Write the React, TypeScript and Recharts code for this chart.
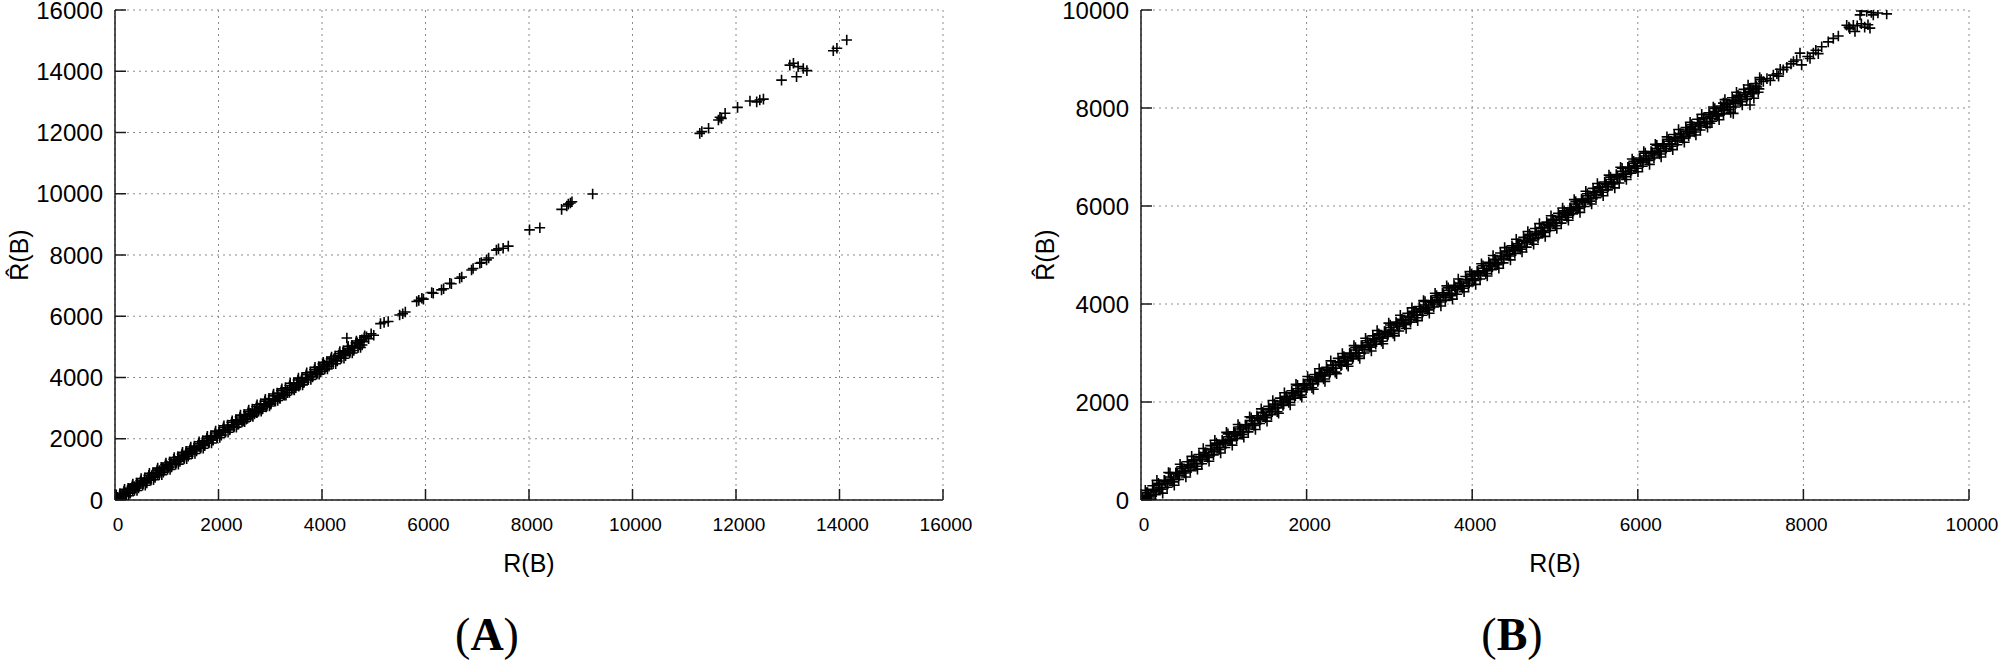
import React from 'react';
import { ScatterChart, Scatter, XAxis, YAxis, CartesianGrid, Label } from 'recharts';

// ---------- tick values & labels ----------
const ticksA = [0, 2000, 4000, 6000, 8000, 10000, 12000, 14000, 16000];
const ticksB = [0, 2000, 4000, 6000, 8000, 10000];
const xTitle = 'R(B)';
const yTitle = 'R\u0302(B)';
const panelNames = ['A', 'B'];

// ---------- panel A data: [R(B), R̂(B)] ----------
const aBand: number[][] = [
  [0, 30], [30, 10], [50, 90], [80, 40], [110, 160], [140, 110], [170, 230], [200, 170], [240, 300], [270, 250],
  [300, 370], [340, 330], [370, 440], [400, 390], [440, 520], [470, 460], [500, 580], [540, 540], [570, 650], [610, 610],
  [640, 720], [680, 680], [710, 800], [750, 760], [780, 880], [820, 840], [860, 960], [890, 910], [930, 1040], [960, 990],
  [1000, 1120], [1040, 1070], [1080, 1210], [1110, 1150], [1150, 1290], [1190, 1240], [1230, 1380], [1260, 1310], [1300, 1450], [1340, 1400],
  [1380, 1530], [1420, 1480], [1450, 1620], [1490, 1550], [1530, 1700], [1570, 1640], [1610, 1780], [1650, 1720], [1690, 1860], [1730, 1810],
  [1770, 1950], [1810, 1880], [1850, 2030], [1890, 1960], [1930, 2110], [1970, 2050], [2010, 2190], [2050, 2140], [2090, 2290], [2130, 2220],
  [2180, 2370], [2220, 2310], [2260, 2460], [2300, 2400], [2350, 2550], [2390, 2480], [2430, 2640], [2480, 2580], [2520, 2730], [2560, 2660],
  [2610, 2820], [2650, 2760], [2700, 2920], [2740, 2850], [2790, 3010], [2830, 2950], [2880, 3100], [2920, 3040], [2970, 3190], [3010, 3130],
  [3060, 3290], [3100, 3230], [3150, 3380], [3190, 3320], [3240, 3480], [3280, 3420], [3330, 3580], [3370, 3510], [3420, 3680], [3460, 3620],
  [3510, 3780], [3550, 3720], [3600, 3890], [3640, 3830], [3690, 3990], [3730, 3930], [3780, 4100], [3820, 4040], [3870, 4200], [3910, 4140],
  [3960, 4310], [4000, 4250], [4050, 4410], [4090, 4350], [4140, 4510], [4180, 4450], [4230, 4610], [4270, 4560], [4320, 4720], [4360, 4660],
  [4410, 4830], [4450, 4760], [4500, 4930], [4540, 4870], [4590, 5030], [4630, 4970], [4680, 5130], [4720, 5070], [4770, 5230], [4810, 5170],
  [4860, 5330], [4900, 5270], [4950, 5430], [5000, 5380], [4480, 5290],
];
const aUp: number[][] = [
  [15, 120], [95, 200], [175, 290], [255, 380], [335, 460], [415, 550], [495, 630], [575, 720], [655, 810], [735, 890],
  [815, 980], [895, 1070], [975, 1150], [1055, 1240], [1135, 1330], [1215, 1410], [1295, 1500], [1375, 1590], [1455, 1670], [1535, 1760],
  [1615, 1840], [1695, 1930], [1775, 2020], [1855, 2100], [1935, 2190], [2015, 2280], [2095, 2360], [2175, 2450], [2255, 2540], [2335, 2620],
  [2415, 2710], [2495, 2790], [2575, 2880], [2655, 2970], [2735, 3050], [2815, 3140], [2895, 3230], [2975, 3310], [3055, 3400], [3135, 3490],
  [3215, 3570], [3295, 3660], [3375, 3740], [3455, 3830], [3535, 3920], [3615, 4000], [3695, 4090], [3775, 4180], [3855, 4260], [3935, 4350],
  [4015, 4440], [4095, 4520], [4175, 4610], [4255, 4700], [4335, 4780], [4415, 4870], [4495, 4950], [4575, 5040], [4655, 5130], [4735, 5210],
  [4815, 5300],
];
const aDown: number[][] = [
  [55, 0], [135, 50], [215, 130], [295, 220], [375, 310], [455, 390], [535, 480], [615, 560], [695, 650], [775, 740],
  [855, 820], [935, 910], [1015, 1000], [1095, 1080], [1175, 1170], [1255, 1260], [1335, 1340], [1415, 1430], [1495, 1510], [1575, 1600],
  [1655, 1690], [1735, 1770], [1815, 1860], [1895, 1950], [1975, 2030], [2055, 2120], [2135, 2210], [2215, 2290], [2295, 2380], [2375, 2470],
  [2455, 2550], [2535, 2640], [2615, 2720], [2695, 2810], [2775, 2900], [2855, 2980], [2935, 3070], [3015, 3160], [3095, 3240], [3175, 3330],
  [3255, 3420], [3335, 3500], [3415, 3590], [3495, 3670], [3575, 3760], [3655, 3850], [3735, 3930], [3815, 4020], [3895, 4110], [3975, 4190],
  [4055, 4280], [4135, 4370], [4215, 4450], [4295, 4540], [4375, 4630], [4455, 4710], [4535, 4800], [4615, 4880], [4695, 4970], [4775, 5060],
];
const aEdge: number[][] = [
  [25, 170], [105, 0], [185, 350], [265, 140], [345, 520], [425, 310], [505, 700], [585, 480], [665, 870], [745, 660],
  [825, 1040], [905, 830], [985, 1210], [1065, 1000], [1145, 1390], [1225, 1170], [1305, 1560], [1385, 1350], [1465, 1730], [1545, 1520],
  [1625, 1900], [1705, 1690], [1785, 2080], [1865, 1860], [1945, 2250], [2025, 2040], [2105, 2420], [2185, 2210], [2265, 2590], [2345, 2380],
  [2425, 2770], [2505, 2560], [2585, 2940], [2665, 2730], [2745, 3110], [2825, 2900], [2905, 3290], [2985, 3070], [3065, 3460], [3145, 3250],
  [3225, 3630], [3305, 3420], [3385, 3810], [3465, 3590], [3545, 3980], [3625, 3760], [3705, 4150], [3785, 3940], [3865, 4330], [3945, 4110],
  [4025, 4500], [4105, 4280], [4185, 4670], [4265, 4450], [4345, 4850], [4425, 4630], [4505, 5020], [4585, 4800], [4665, 5190], [4745, 4980],
  [4825, 5360],
];
const aMid: number[][] = [
  [5130, 5760], [5200, 5800], [5280, 5830], [5500, 6040], [5560, 6080], [5610, 6140], [5830, 6480], [5870, 6520], [5930, 6590], [5960, 6560],
  [6120, 6770], [6150, 6750], [6310, 6860], [6350, 6900], [6470, 7080], [6500, 7060], [6660, 7240], [6700, 7280], [6890, 7510], [6920, 7560],
  [7050, 7730], [7080, 7750], [7180, 7840], [7220, 7900], [7370, 8160], [7410, 8200],
];
const aSparse: number[][] = [
  [7500, 8220], [7600, 8290], [8010, 8820], [8210, 8890], [8630, 9490], [8730, 9600], [8760, 9660], [8800, 9700], [8830, 9740], [9230, 9990],
  [11300, 11970], [11340, 12030], [11470, 12140], [11660, 12410], [11690, 12500], [11720, 12460], [11790, 12630], [12030, 12820], [12270, 13030], [12400, 13000],
  [12460, 13060], [12530, 13090], [12880, 13710], [13040, 14200], [13110, 14260], [13170, 13820], [13200, 14150], [13300, 14090], [13370, 14020], [13880, 14670],
  [13950, 14750], [14140, 15020],
];

// ---------- panel B data: [R(B), R̂(B)] ----------
const bUpper: number[][] = [
  [0, 50], [70, 150], [140, 290], [210, 340], [280, 400], [350, 550], [420, 550], [490, 680], [560, 780], [630, 820],
  [700, 930], [770, 960], [840, 1110], [910, 1160], [980, 1220], [1050, 1350], [1120, 1390], [1190, 1490], [1260, 1530], [1330, 1680],
  [1400, 1720], [1470, 1790], [1540, 1910], [1610, 1960], [1680, 2080], [1750, 2110], [1820, 2230], [1890, 2340], [1960, 2370], [2030, 2460],
  [2100, 2560], [2170, 2600], [2240, 2710], [2310, 2750], [2380, 2890], [2450, 2930], [2520, 3000], [2590, 3110], [2660, 3150], [2730, 3250],
  [2800, 3350], [2870, 3390], [2940, 3440], [3010, 3570], [3080, 3630], [3150, 3690], [3220, 3810], [3290, 3850], [3360, 3950], [3430, 4050],
  [3500, 4070], [3570, 4170], [3640, 4230], [3710, 4330], [3780, 4380], [3850, 4420], [3920, 4560], [3990, 4610], [4060, 4670], [4130, 4780],
  [4200, 4850], [4270, 4910], [4340, 5040], [4410, 5080], [4480, 5190], [4550, 5230], [4620, 5360], [4690, 5420], [4760, 5540], [4830, 5560],
  [4900, 5670], [4970, 5730], [5040, 5850], [5110, 5900], [5180, 5960], [5250, 6090], [5320, 6140], [5390, 6250], [5460, 6360], [5530, 6390],
  [5600, 6490], [5670, 6590], [5740, 6640], [5810, 6770], [5880, 6790], [5950, 6910], [6020, 6980], [6090, 7080], [6160, 7110], [6230, 7240],
  [6300, 7270], [6370, 7360], [6440, 7460], [6510, 7480], [6580, 7600], [6650, 7660], [6720, 7770], [6790, 7800], [6860, 7900], [6930, 7990],
  [7000, 8040], [7070, 8090], [7140, 8210], [7210, 8260], [7280, 8380], [7350, 8400], [7420, 8500], [7490, 8580],
];
const bLower: number[][] = [
  [35, 10], [105, 60], [175, 110], [245, 220], [315, 260], [385, 370], [455, 420], [525, 550], [595, 600], [665, 690],
  [735, 740], [805, 870], [875, 920], [945, 1030], [1015, 1070], [1085, 1210], [1155, 1250], [1225, 1340], [1295, 1390], [1365, 1520],
  [1435, 1560], [1505, 1680], [1575, 1740], [1645, 1800], [1715, 1930], [1785, 1990], [1855, 2080], [1925, 2140], [1995, 2250], [2065, 2290],
  [2135, 2420], [2205, 2470], [2275, 2560], [2345, 2610], [2415, 2740], [2485, 2770], [2555, 2880], [2625, 2940], [2695, 3000], [2765, 3120],
  [2835, 3180], [2905, 3240], [2975, 3340], [3045, 3400], [3115, 3450], [3185, 3580], [3255, 3630], [3325, 3720], [3395, 3770], [3465, 3880],
  [3535, 3940], [3605, 4040], [3675, 4070], [3745, 4170], [3815, 4200], [3885, 4320], [3955, 4370], [4025, 4480], [4095, 4510], [4165, 4620],
  [4235, 4700], [4305, 4800], [4375, 4840], [4445, 4980], [4515, 5030], [4585, 5120], [4655, 5160], [4725, 5290], [4795, 5350], [4865, 5460],
  [4935, 5500], [5005, 5600], [5075, 5650], [5145, 5770], [5215, 5840], [5285, 5950], [5355, 5990], [5425, 6100], [5495, 6170], [5565, 6280],
  [5635, 6330], [5705, 6450], [5775, 6470], [5845, 6600], [5915, 6670], [5985, 6770], [6055, 6810], [6125, 6930], [6195, 6980], [6265, 7060],
  [6335, 7120], [6405, 7220], [6475, 7250], [6545, 7380], [6615, 7430], [6685, 7510], [6755, 7550], [6825, 7680], [6895, 7730], [6965, 7840],
  [7035, 7880], [7105, 7970], [7175, 8020], [7245, 8130], [7315, 8180], [7385, 8290], [7455, 8320],
];
const bCenter: number[][] = [
  [17, 30], [87, 90], [157, 200], [227, 250], [297, 370], [367, 420], [437, 530], [507, 590], [577, 700], [647, 750],
  [717, 860], [787, 910], [857, 1020], [927, 1070], [997, 1180], [1067, 1240], [1137, 1350], [1207, 1400], [1277, 1510], [1347, 1560],
  [1417, 1670], [1487, 1720], [1557, 1840], [1627, 1890], [1697, 2000], [1767, 2050], [1837, 2170], [1907, 2220], [1977, 2330], [2047, 2380],
  [2117, 2490], [2187, 2540], [2257, 2650], [2327, 2690], [2397, 2800], [2467, 2850], [2537, 2960], [2607, 3000], [2677, 3110], [2747, 3160],
  [2817, 3270], [2887, 3310], [2957, 3420], [3027, 3470], [3097, 3570], [3167, 3620], [3237, 3730], [3307, 3780], [3377, 3880], [3447, 3930],
  [3517, 4030], [3587, 4080], [3657, 4180], [3727, 4220], [3797, 4330], [3867, 4370], [3937, 4470], [4007, 4520], [4077, 4630], [4147, 4680],
  [4217, 4790], [4287, 4850], [4357, 4960], [4427, 5010], [4497, 5120], [4567, 5180], [4637, 5280], [4707, 5330], [4777, 5440], [4847, 5490],
  [4917, 5600], [4987, 5650], [5057, 5770], [5127, 5820], [5197, 5930], [5267, 5990], [5337, 6100], [5407, 6150], [5477, 6270], [5547, 6320],
  [5617, 6440], [5687, 6490], [5757, 6600], [5827, 6650], [5897, 6770], [5967, 6820], [6037, 6920], [6107, 6970], [6177, 7080], [6247, 7120],
  [6317, 7220], [6387, 7270], [6457, 7370], [6527, 7420], [6597, 7520], [6667, 7570], [6737, 7680], [6807, 7720], [6877, 7830], [6947, 7880],
  [7017, 7980], [7087, 8030], [7157, 8130], [7227, 8180], [7297, 8280], [7367, 8330], [7437, 8430],
];
const bMidHigh: number[][] = [
  [9, 60], [79, 150], [149, 220], [219, 310], [289, 390], [359, 470], [429, 560], [499, 640], [569, 720], [639, 800],
  [709, 880], [779, 970], [849, 1040], [919, 1130], [989, 1200], [1059, 1290], [1129, 1370], [1199, 1450], [1269, 1530], [1339, 1620],
  [1409, 1690], [1479, 1780], [1549, 1860], [1619, 1940], [1689, 2020], [1759, 2110], [1829, 2190], [1899, 2270], [1969, 2350], [2039, 2430],
  [2109, 2510], [2179, 2590], [2249, 2670], [2319, 2750], [2389, 2820], [2459, 2900], [2529, 2980], [2599, 3060], [2669, 3140], [2739, 3210],
  [2809, 3290], [2879, 3370], [2949, 3440], [3019, 3520], [3089, 3600], [3159, 3670], [3229, 3750], [3299, 3830], [3369, 3900], [3439, 3980],
  [3509, 4060], [3579, 4130], [3649, 4200], [3719, 4280], [3789, 4350], [3859, 4420], [3929, 4500], [3999, 4570], [4069, 4650], [4139, 4730],
  [4209, 4820], [4279, 4900], [4349, 4980], [4419, 5070], [4489, 5150], [4559, 5230], [4629, 5300], [4699, 5390], [4769, 5470], [4839, 5550],
  [4909, 5630], [4979, 5700], [5049, 5790], [5119, 5870], [5189, 5960], [5259, 6040], [5329, 6120], [5399, 6210], [5469, 6290], [5539, 6380],
  [5609, 6460], [5679, 6540], [5749, 6620], [5819, 6710], [5889, 6790], [5959, 6870], [6029, 6950], [6099, 7020], [6169, 7100], [6239, 7170],
  [6309, 7250], [6379, 7320], [6449, 7400], [6519, 7470], [6589, 7550], [6659, 7620], [6729, 7700], [6799, 7780], [6869, 7860], [6939, 7930],
  [7009, 8010], [7079, 8080], [7149, 8160], [7219, 8230], [7289, 8310], [7359, 8380], [7429, 8450],
];
const bMidLow: number[][] = [
  [44, 0], [114, 90], [184, 170], [254, 250], [324, 330], [394, 420], [464, 500], [534, 580], [604, 660], [674, 740],
  [744, 820], [814, 900], [884, 990], [954, 1070], [1024, 1150], [1094, 1230], [1164, 1310], [1234, 1390], [1304, 1470], [1374, 1550],
  [1444, 1640], [1514, 1720], [1584, 1800], [1654, 1880], [1724, 1960], [1794, 2050], [1864, 2130], [1934, 2210], [2004, 2290], [2074, 2370],
  [2144, 2450], [2214, 2530], [2284, 2610], [2354, 2690], [2424, 2760], [2494, 2840], [2564, 2920], [2634, 3000], [2704, 3070], [2774, 3150],
  [2844, 3230], [2914, 3300], [2984, 3380], [3054, 3460], [3124, 3540], [3194, 3610], [3264, 3690], [3334, 3770], [3404, 3840], [3474, 3920],
  [3544, 4000], [3614, 4070], [3684, 4140], [3754, 4210], [3824, 4290], [3894, 4360], [3964, 4430], [4034, 4510], [4104, 4590], [4174, 4680],
  [4244, 4760], [4314, 4840], [4384, 4920], [4454, 5010], [4524, 5090], [4594, 5170], [4664, 5250], [4734, 5330], [4804, 5410], [4874, 5490],
  [4944, 5570], [5014, 5650], [5084, 5730], [5154, 5810], [5224, 5900], [5294, 5980], [5364, 6070], [5434, 6150], [5504, 6230], [5574, 6320],
  [5644, 6400], [5714, 6480], [5784, 6570], [5854, 6650], [5924, 6730], [5994, 6810], [6064, 6890], [6134, 6960], [6204, 7040], [6274, 7110],
  [6344, 7180], [6414, 7260], [6484, 7330], [6554, 7410], [6624, 7490], [6694, 7560], [6764, 7640], [6834, 7720], [6904, 7790], [6974, 7870],
  [7044, 7950], [7114, 8020], [7184, 8100], [7254, 8170], [7324, 8240], [7394, 8320], [7464, 8390],
];
const bEdge: number[][] = [
  [52, 200], [122, 20], [192, 400], [262, 140], [332, 560], [402, 300], [472, 730], [542, 470], [612, 890], [682, 630],
  [752, 1050], [822, 790], [892, 1220], [962, 960], [1032, 1380], [1102, 1120], [1172, 1540], [1242, 1280], [1312, 1700], [1382, 1440],
  [1452, 1860], [1522, 1610], [1592, 2030], [1662, 1770], [1732, 2190], [1802, 1940], [1872, 2360], [1942, 2100], [2012, 2520], [2082, 2260],
  [2152, 2680], [2222, 2420], [2292, 2840], [2362, 2580], [2432, 2990], [2502, 2730], [2572, 3150], [2642, 2890], [2712, 3300], [2782, 3040],
  [2852, 3460], [2922, 3190], [2992, 3610], [3062, 3350], [3132, 3770], [3202, 3500], [3272, 3920], [3342, 3660], [3412, 4070], [3482, 3810],
  [3552, 4220], [3622, 3960], [3692, 4370], [3762, 4100], [3832, 4510], [3902, 4250], [3972, 4660], [4042, 4400], [4112, 4820], [4182, 4570],
  [4252, 4990], [4322, 4730], [4392, 5150], [4462, 4900], [4532, 5320], [4602, 5060], [4672, 5480], [4742, 5220], [4812, 5640], [4882, 5380],
  [4952, 5800], [5022, 5540], [5092, 5960], [5162, 5710], [5232, 6130], [5302, 5870], [5372, 6300], [5442, 6040], [5512, 6460], [5582, 6210],
  [5652, 6630], [5722, 6370], [5792, 6790], [5862, 6540], [5932, 6960], [6002, 6700], [6072, 7110], [6142, 6850], [6212, 7260], [6282, 7000],
  [6352, 7410], [6422, 7150], [6492, 7560], [6562, 7300], [6632, 7710], [6702, 7450], [6772, 7870], [6842, 7610], [6912, 8020], [6982, 7760],
  [7052, 8170], [7122, 7910], [7192, 8320], [7262, 8060], [7332, 8470], [7402, 8200], [7472, 8620],
];
const bTop: number[][] = [
  [6630, 7480], [6751, 7690], [6872, 7690], [7033, 8100], [7153, 7890], [7234, 8230], [7355, 8060], [7395, 8370], [7516, 8540], [7560, 8600],
  [7600, 8560], [7637, 8670], [7680, 8700], [7700, 8650], [7720, 8790], [7757, 8780], [7800, 8830], [7850, 8900], [7880, 8950], [7919, 8980],
  [7959, 9120], [7979, 8880], [8050, 9050], [8080, 9010], [8120, 9120], [8150, 9180], [8180, 9110], [8221, 9250], [8300, 9350], [8361, 9420],
  [8422, 9470], [8523, 9690], [8550, 9650], [8560, 9620], [8603, 9690], [8623, 9560], [8650, 9680], [8684, 9900], [8700, 9720], [8700, 9980],
  [8740, 9650], [8765, 9970], [8780, 9700], [8804, 9630], [8820, 9950], [8844, 9900], [8900, 9940], [9006, 9920],
];

const toRows = (pts: number[][]) => pts.map(([r, rh]) => ({ r, rh }));

const SANS = '"Liberation Sans", Arial, "DejaVu Sans", sans-serif';
const SERIF = '"Liberation Serif", "Times New Roman", serif';
const FRAME = '#1a1a1a';

const Cross = (props: any) => {
  const { cx, cy } = props;
  if (cx == null || cy == null || isNaN(cx) || isNaN(cy)) return null;
  return (
    <path
      d={`M${cx - 5.3},${cy}H${cx + 5.3}M${cx},${cy - 5.3}V${cy + 5.3}`}
      stroke="#000"
      strokeWidth={1.6}
      fill="none"
    />
  );
};

const BottomTick = (p: any) => (
  <g>
    <line x1={p.x} y1={p.y} x2={p.x} y2={p.y - 11} stroke={FRAME} strokeWidth={1.5} />
    <text x={p.x + 3} y={p.y + 24} textAnchor="middle" dominantBaseline="central" fontSize={19} fontFamily={SANS} fill="#000">
      {p.payload.value}
    </text>
  </g>
);
const TopTick = (p: any) => (
  <line x1={p.x} y1={p.y} x2={p.x} y2={p.y + 11} stroke={FRAME} strokeWidth={1.5} />
);
const LeftTick = (p: any) => (
  <g>
    <line x1={p.x} y1={p.y} x2={p.x + 11} y2={p.y} stroke={FRAME} strokeWidth={1.5} />
    <text x={p.x - 12} y={p.y} textAnchor="end" dominantBaseline="central" fontSize={24} fontFamily={SANS} fill="#000">
      {p.payload.value}
    </text>
  </g>
);
const RightTick = (p: any) => (
  <line x1={p.x} y1={p.y} x2={p.x - 11} y2={p.y} stroke={FRAME} strokeWidth={1.5} />
);

const XTitle = (p: any) => {
  const vb = p.viewBox || {};
  return (
    <text x={vb.x + vb.width / 2} y={vb.y + 63} textAnchor="middle" dominantBaseline="central" fontSize={25} fontFamily={SANS} fill="#000">
      {xTitle}
    </text>
  );
};
const YTitle = (p: any) => {
  const vb = p.viewBox || {};
  const cx = vb.x + vb.width - 96;
  const cy = vb.y + vb.height / 2;
  return (
    <text x={cx} y={cy} transform={`rotate(-90 ${cx} ${cy})`} textAnchor="middle" dominantBaseline="central" fontSize={25} fontFamily={SANS} fill="#000">
      {yTitle}
    </text>
  );
};

function Panel(props: { left: number; width: number; yW: number; rightM: number; ticks: number[]; max: number; series: number[][][] }) {
  const { left, width, yW, rightM, ticks, max, series } = props;
  const axisLine = { stroke: FRAME, strokeWidth: 1.5 };
  return (
    <div style={{ position: 'absolute', left, top: 0, width, height: 660 }}>
      <ScatterChart width={width} height={660} margin={{ top: 10, right: rightM, bottom: 120, left: 0 }}>
        <CartesianGrid stroke="#8c8c8c" strokeDasharray="2 4" strokeWidth={1} />
        <XAxis dataKey="r" type="number" domain={[0, max]} ticks={ticks} interval={0} height={40}
          tickSize={0} tickMargin={0} tickLine={false} axisLine={axisLine} tick={BottomTick} allowDataOverflow>
          <Label content={XTitle} />
        </XAxis>
        <XAxis xAxisId="top" orientation="top" type="number" domain={[0, max]} ticks={ticks} interval={0} height={0}
          tickSize={0} tickMargin={0} tickLine={false} axisLine={axisLine} tick={TopTick} allowDataOverflow />
        <YAxis dataKey="rh" type="number" domain={[0, max]} ticks={ticks} interval={0} width={yW}
          tickSize={0} tickMargin={0} tickLine={false} axisLine={axisLine} tick={LeftTick} allowDataOverflow>
          <Label content={YTitle} />
        </YAxis>
        <YAxis yAxisId="right" orientation="right" type="number" domain={[0, max]} ticks={ticks} interval={0} width={0}
          tickSize={0} tickMargin={0} tickLine={false} axisLine={axisLine} tick={RightTick} allowDataOverflow />
        {series.map((s, i) => (
          <Scatter key={i} data={toRows(s)} shape={Cross} isAnimationActive={false} />
        ))}
      </ScatterChart>
    </div>
  );
}

export default function App() {
  return (
    <div style={{ position: 'absolute', left: 0, top: 0, width: 1999, height: 660, background: '#fff', overflow: 'hidden' }}>
      <Panel left={0} width={1000} yW={115} rightM={57} ticks={ticksA} max={16000} series={[aBand, aUp, aDown, aEdge, aMid, aSparse]} />
      <Panel left={1000} width={999} yW={141} rightM={30} ticks={ticksB} max={10000} series={[bUpper, bLower, bCenter, bMidHigh, bMidLow, bEdge, bTop]} />
      <svg width={1999} height={660} style={{ position: 'absolute', left: 0, top: 0, pointerEvents: 'none' }}>
        {panelNames.map((n, i) => (
          <text key={n} x={i === 0 ? 487 : 1512} y={650} textAnchor="middle" fontSize={46} fontFamily={SERIF} fill="#000">
            <tspan>(</tspan>
            <tspan fontWeight="bold">{n}</tspan>
            <tspan>)</tspan>
          </text>
        ))}
      </svg>
    </div>
  );
}
